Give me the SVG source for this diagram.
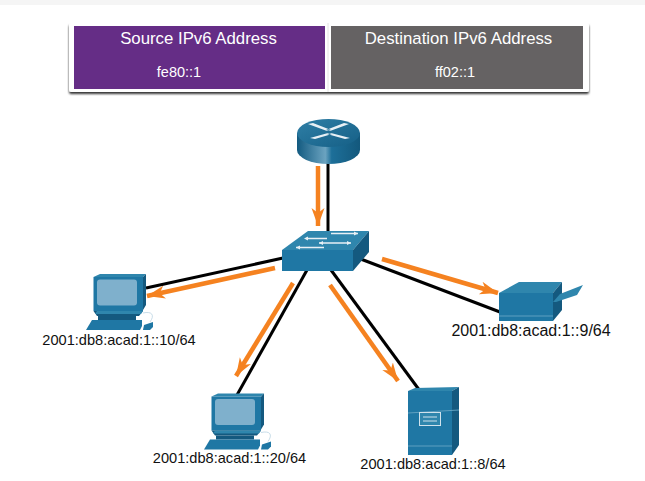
<svg xmlns="http://www.w3.org/2000/svg" width="645" height="481" viewBox="0 0 645 481">
<style>
text{font-family:"Liberation Sans",Arial,sans-serif}
.h{font-size:16.800px;fill:#fff;text-anchor:middle}
.v{font-size:14.500px;fill:#fff;text-anchor:middle}
.l{font-size:14.600px;fill:#111;text-anchor:middle}
.link{stroke:#000;stroke-width:3;fill:none}
.flow{stroke:#f58220;stroke-width:4.500;fill:none;marker-end:url(#ah)}
.f{fill:#1f77a4}.t{fill:#2f86ad}.s{fill:#14597f}
</style>
<defs>
<marker id="ah" markerUnits="userSpaceOnUse" markerWidth="20" markerHeight="16" refX="18" refY="8" orient="auto"><path d="M0 1.500 L18 8 L0 14.500 L5 8Z" fill="#f58220"/></marker>
<linearGradient id="rg" x1="0" x2="1" y1="0" y2="0"><stop offset="0" stop-color="#125a80"/><stop offset=".45" stop-color="#6ba3c0"/><stop offset=".55" stop-color="#1d6f99"/><stop offset="1" stop-color="#13587c"/></linearGradient>
<linearGradient id="rt" x1="0" x2="1" y1="0" y2="1"><stop offset="0" stop-color="#2f7fa6"/><stop offset="1" stop-color="#155f86"/></linearGradient>
<filter id="sh" x="-5%" y="-20%" width="110%" height="140%"><feDropShadow dx="0" dy="2" stdDeviation="1" flood-color="#000" flood-opacity=".8"/></filter>
<g id="pc">
<path d="M93.500 277 L100 274 L146 274 L143 277Z" class="t"/>
<path d="M143 277 L146 274 L146 305 L143 310Z" class="s"/>
<rect x="93.500" y="277" width="49.500" height="34" class="f"/>
<rect x="97" y="279.500" width="40" height="26" rx="3" fill="#7fb0cc"/>
<path d="M93.500 311 L143 311 L139 316 L97 316Z" class="s"/>
<path d="M97 311 L143 311 L141 314 L95 314Z" class="t"/>
<rect x="98" y="316" width="38" height="4" class="s"/>
<path d="M92 320 L142 320 L142 326 L140 330 L86 330Z" class="f"/>
<path d="M144 325 L153 322 L153 327 L150 330 L143 330Z" class="f"/>
<path d="M143 313 C152 311 155 315 150 322" fill="none" stroke="#b9d3e2" stroke-width=".8"/>
</g>
</defs>
<rect width="645" height="481" fill="#fff"/>
<rect width="645" height="5" fill="#f5f5f5"/>
<g id="header">
<rect x="69" y="23" width="520" height="69" rx="2" fill="#fff" filter="url(#sh)"/>
<rect x="74" y="26" width="251" height="63" fill="#652d86"/>
<rect x="331" y="26" width="252" height="63" fill="#656263"/>
<line x1="328" y1="23" x2="328" y2="92" stroke="#e4e4e4"/>
<text class="h" x="198.500" y="44">Source IPv6 Address</text>
<text class="h" x="458.500" y="44">Destination IPv6 Address</text>
<text class="v" x="179" y="77">fe80::1</text>
<text class="v" x="455" y="77">ff02::1</text>
</g>
<g id="connectors">
<line class="link" x1="328" y1="158" x2="328" y2="233"/>
<line class="link" x1="146" y1="288" x2="283" y2="258"/>
<line class="link" x1="307" y1="270" x2="237" y2="395"/>
<line class="link" x1="331" y1="270" x2="420" y2="391"/>
<line class="link" x1="358" y1="258" x2="500" y2="312"/>
<line class="flow" x1="318" y1="166" x2="318" y2="226"/>
<line class="flow" x1="275" y1="268" x2="147" y2="296"/>
<line class="flow" x1="293" y1="283" x2="236" y2="376"/>
<line class="flow" x1="330" y1="285" x2="398" y2="381"/>
<line class="flow" x1="382" y1="259" x2="498" y2="293"/>
</g>
<g id="router">
<path d="M297 133 V150 A31.500 14 0 0 0 360 150 V133Z" fill="url(#rg)"/>
<ellipse cx="328.500" cy="133" rx="31.500" ry="14" fill="url(#rt)"/>
<path d="M308 124 L313 123 L331 130 L327 131Z M349 124 L344 123 L326 130 L330 131Z M310 138 L315 139 L332 134 L328 133Z M350 138 L345 139 L327 134 L331 133Z" fill="#e8f0f5"/>
</g>
<g id="switch">
<path d="M282 250 L308 231 L369 231 L353 250Z" class="t"/>
<path d="M353 250 L369 231 L369 252 L353 271Z" class="s"/>
<rect x="282" y="250" width="71" height="21" class="f"/>
<path d="M306 238.500 H327 M331 233.500 H358 M319 243 H351 M296 247.500 H324" stroke="#e8f0f5" stroke-width="1.500" fill="none"/>
<path d="M304 238.500 l4 -2 v4Z M358 233.500 l-4 -2 v4Z M319 243 l4 -2 v4Z M351 243 l-4 -2 v4Z M296 247.500 l4 -2 v4Z" fill="#e8f0f5"/>
</g>
<g id="pc1"><use href="#pc"/><text class="l" x="119" y="345">2001:db8:acad:1::10/64</text></g>
<g id="pc2"><use href="#pc" x="118" y="119.500"/><text class="l" x="229.500" y="463">2001:db8:acad:1::20/64</text></g>
<g id="printer">
<path d="M499 293 L519 282 L562 282 L553 293Z" class="t"/>
<path d="M553 293 L562 282 L562 310 L553 321Z" class="s"/>
<rect x="499" y="293" width="54" height="28" class="f"/>
<line x1="499" y1="316" x2="553" y2="316" stroke="#5fa0c0"/>
<path d="M553 302 L560 294 L583 285 L577 295 L556 302Z" fill="#2f86ad"/>
<text class="l" style="font-size:16px" x="531" y="336">2001:db8:acad:1::9/64</text>
</g>
<g id="server">
<path d="M408 391 L415 388 L459 387 L452 391Z" class="t"/>
<path d="M452 391 L459 387 L459 445 L452 455Z" class="s"/>
<rect x="408" y="391" width="44" height="64" class="f"/>
<line x1="408" y1="413" x2="459" y2="410" stroke="#5fa0c0"/>
<line x1="408" y1="446" x2="452" y2="446" stroke="#5fa0c0"/>
<rect x="419.500" y="412.500" width="21" height="13" fill="#2f86ad" stroke="#cfe2ec"/>
<path d="M423 417 H437 M423 421 H437" stroke="#cfe2ec"/>
<text class="l" x="433" y="469">2001:db8:acad:1::8/64</text>
</g>
</svg>
